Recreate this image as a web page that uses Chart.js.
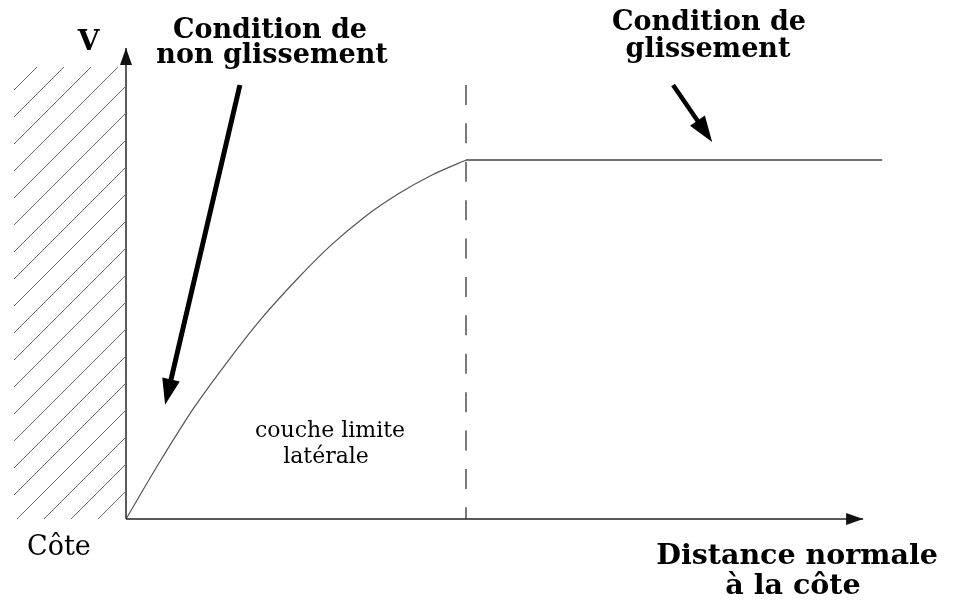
<!DOCTYPE html>
<html>
<head>
<meta charset="utf-8">
<script src="https://cdn.jsdelivr.net/npm/chart.js@4/dist/chart.umd.min.js"></script>
<style>
  html, body { margin: 0; padding: 0; background: #fff; }
  #wrap { width: 957px; height: 604px; }
</style>
</head>
<body>
<div id="wrap"><canvas id="c" width="957" height="604"></canvas></div>
<script>
// ---- data (x: distance normalised by boundary-layer width, y: velocity normalised by free-stream V) ----
const curveX   = [0, 0.1, 0.2, 0.3, 0.4, 0.5, 0.6, 0.7, 0.8, 0.9, 1.0];
const curveV   = [0, 0.16, 0.31, 0.44, 0.56, 0.665, 0.76, 0.84, 0.905, 0.958, 1.0];
const plateauX = [1.0, 2.224];
const plateauV = [1.0, 1.0];
const deltaX   = [1.0, 1.0];        // limit of the lateral boundary layer
const deltaV   = [1.209, 0];
const yAxisX   = [0, 0];
const yAxisV   = [0, 1.312];
const xAxisX   = [0, 2.168];
const xAxisV   = [0, 0];
const wallX    = [-0.3294, 0];      // hatched coast
const wallV    = [1.259, 1.259];
// annotation arrows: [fromX, fromV, toX, toV]
const arrowNoSlip = [0.335, 1.209, 0.115, 0.318];
const arrowSlip   = [1.609, 1.209, 1.724, 1.050];

const pts = (xs, ys) => xs.map((x, i) => ({ x: x, y: ys[i] }));

// hatch pattern for the coast
function hatchPattern() {
  const s = 27;
  const pc = document.createElement('canvas');
  pc.width = s; pc.height = s;
  const g = pc.getContext('2d');
  g.strokeStyle = '#6a6a6a';
  g.lineWidth = 1;
  g.beginPath();
  g.moveTo(-2, s + 2); g.lineTo(s + 2, -2);
  g.moveTo(-2, 2); g.lineTo(2, -2);
  g.moveTo(s - 2, s + 2); g.lineTo(s + 2, s - 2);
  g.stroke();
  const p = document.getElementById('c').getContext('2d').createPattern(pc, 'repeat');
  if (p.setTransform) p.setTransform(new DOMMatrix().translate(23, 0));
  return p;
}

function drawArrow(ctx, x1, y1, x2, y2, lw, headLen, headW, color) {
  const ang = Math.atan2(y2 - y1, x2 - x1);
  const bx = x2 - Math.cos(ang) * headLen, by = y2 - Math.sin(ang) * headLen;
  ctx.save();
  ctx.strokeStyle = color; ctx.fillStyle = color;
  if (lw > 0) {
    ctx.lineWidth = lw;
    ctx.beginPath(); ctx.moveTo(x1, y1); ctx.lineTo(bx + Math.cos(ang) * 2, by + Math.sin(ang) * 2); ctx.stroke();
  }
  const nx = -Math.sin(ang) * headW / 2, ny = Math.cos(ang) * headW / 2;
  ctx.beginPath();
  ctx.moveTo(x2, y2);
  ctx.lineTo(bx + nx, by + ny);
  ctx.lineTo(bx - nx, by - ny);
  ctx.closePath(); ctx.fill();
  ctx.restore();
}

const decor = {
  id: 'decor',
  afterDatasetsDraw(chart) {
    const ctx = chart.ctx;
    const xs = chart.scales.x, ys = chart.scales.y;
    const P = (x, y) => [xs.getPixelForValue(x), ys.getPixelForValue(y)];
    // axis arrow heads
    let a = P(yAxisX[0], yAxisV[0]), b = P(yAxisX[1], yAxisV[1]);
    drawArrow(ctx, a[0], a[1], b[0], b[1], 0, 17, 12, '#111');
    a = P(xAxisX[0], xAxisV[0]); b = P(xAxisX[1], xAxisV[1]);
    drawArrow(ctx, a[0], a[1], b[0], b[1], 0, 17, 12, '#111');
    // annotation arrows
    a = P(arrowNoSlip[0], arrowNoSlip[1]); b = P(arrowNoSlip[2], arrowNoSlip[3]);
    drawArrow(ctx, a[0], a[1], b[0], b[1], 5, 26, 18, '#000');
    a = P(arrowSlip[0], arrowSlip[1]); b = P(arrowSlip[2], arrowSlip[3]);
    drawArrow(ctx, a[0], a[1], b[0], b[1], 4.5, 26, 18, '#000');

    // texts
    ctx.save();
    ctx.fillStyle = '#000';
    ctx.textBaseline = 'alphabetic';
    ctx.textAlign = 'center';
    ctx.font = 'bold 28px "DejaVu Serif"';
    ctx.fillText('V', 88.5, 50);
    ctx.font = 'bold 27px "DejaVu Serif"';
    ctx.fillText('Condition de', 270, 38);
    ctx.fillText('non glissement', 272, 63);
    ctx.fillText('Condition de', 709, 30);
    ctx.fillText('glissement', 708, 57);
    ctx.font = 'bold 28.5px "DejaVu Serif"';
    ctx.fillText('Distance normale', 797, 564);
    ctx.fillText('à la côte', 793, 594);
    ctx.font = '22px "DejaVu Serif"';
    ctx.fillText('couche limite', 330, 437);
    ctx.fillText('latérale', 326, 463);
    ctx.textAlign = 'left';
    ctx.font = '27px "DejaVu Serif"';
    ctx.fillText('Côte', 27, 555);
    ctx.restore();
  }
};

const common = { showLine: true, pointRadius: 0, pointHoverRadius: 0, fill: false };

new Chart(document.getElementById('c'), {
  type: 'scatter',
  data: {
    datasets: [
      Object.assign({}, common, { data: pts(wallX, wallV), fill: 'origin', backgroundColor: hatchPattern(), borderWidth: 0, borderColor: 'rgba(0,0,0,0)' }),
      Object.assign({}, common, { data: pts(deltaX, deltaV), borderColor: '#222', borderWidth: 1.2, borderDash: [20, 18.4] }),
      Object.assign({}, common, { data: pts(yAxisX, yAxisV), borderColor: '#333', borderWidth: 1.6 }),
      Object.assign({}, common, { data: pts(xAxisX, xAxisV), borderColor: '#222', borderWidth: 1.6 }),
      Object.assign({}, common, { data: pts(curveX, curveV), borderColor: '#555', borderWidth: 1.2, cubicInterpolationMode: 'monotone' }),
      Object.assign({}, common, { data: pts(plateauX, plateauV), borderColor: '#444', borderWidth: 1.6 })
    ]
  },
  options: {
    responsive: false,
    animation: false,
    events: [],
    layout: { padding: 0 },
    plugins: { legend: { display: false }, tooltip: { enabled: false }, title: { display: false } },
    scales: {
      x: { type: 'linear', display: false, min: -126 / 340, max: (957 - 126) / 340 },
      y: { type: 'linear', display: false, min: -(604 - 519) / 359, max: 519 / 359 }
    }
  },
  plugins: [decor]
});
</script>
</body>
</html>
